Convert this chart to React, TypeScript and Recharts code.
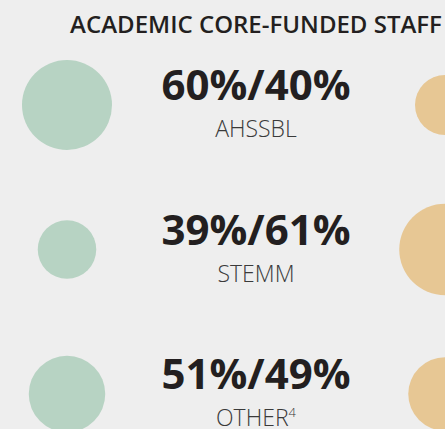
import React from "react";
import { ScatterChart, Scatter, XAxis, YAxis } from "recharts";

// staff split per faculty group (left circle / right circle)
const categories = ["AHSSBL", "STEMM", "OTHER"];
const footnotes = ["", "", "4"];
const leftShare = [60, 39, 51];
const rightShare = [40, 61, 49];

const TITLE = "ACADEMIC CORE-FUNDED STAFF";
const GREEN = "#b7d3c3";
const TAN = "#e7c794";
const INK = "#231f20";
const FONT = "'Open Sans', sans-serif";
const R_PER_PCT = 0.75;

const leftPoints = categories.map((c, i) => ({ x: 0, y: i, value: leftShare[i] }));
const rightPoints = categories.map((c, i) => ({ x: 1, y: i, value: rightShare[i] }));
const labelPoints = categories.map((c, i) => ({
  x: 0.5,
  y: i,
  name: c,
  note: footnotes[i],
  share: `${leftShare[i]}%/${rightShare[i]}%`,
}));

const bubble = (color: string) => (props: any) => (
  <circle cx={props.cx} cy={props.cy} r={props.payload.value * R_PER_PCT} fill={color} />
);

const RowLabel = (props: any) => {
  const { cx, cy, payload } = props;
  return (
    <g>
      <text
        x={cx}
        y={cy - 5}
        textAnchor="middle"
        fontFamily={FONT}
        fontSize={42}
        fontWeight={700}
        fill={INK}
      >
        {payload.share}
      </text>
      <text
        x={cx}
        y={cy + 32}
        textAnchor="middle"
        fontFamily={FONT}
        fontSize={23}
        fontWeight={300}
        fill="#3a3a3a"
      >
        {payload.name}
        {payload.note && (
          <tspan dy={-9} fontSize={13}>
            {payload.note}
          </tspan>
        )}
      </text>
    </g>
  );
};

export default function App() {
  return (
    <div
      style={{
        position: "absolute",
        left: 0,
        top: 0,
        width: 445,
        height: 429,
        background: "#eeeeee",
        overflow: "hidden",
      }}
    >
      <div
        style={{
          position: "absolute",
          left: 0,
          top: 7,
          width: 512,
          textAlign: "center",
          fontFamily: FONT,
          fontWeight: 600,
          fontSize: 24,
          color: INK,
          whiteSpace: "nowrap",
        }}
      >
        {TITLE}
      </div>
      <ScatterChart
        width={445}
        height={429}
        margin={{ top: 105, right: 0, bottom: 35, left: 67 }}
      >
        <XAxis type="number" dataKey="x" domain={[0, 1]} hide />
        <YAxis type="number" dataKey="y" domain={[0, 2]} reversed hide />
        <Scatter data={leftPoints} shape={bubble(GREEN)} isAnimationActive={false} />
        <Scatter data={rightPoints} shape={bubble(TAN)} isAnimationActive={false} />
        <Scatter data={labelPoints} shape={RowLabel} isAnimationActive={false} />
      </ScatterChart>
    </div>
  );
}
